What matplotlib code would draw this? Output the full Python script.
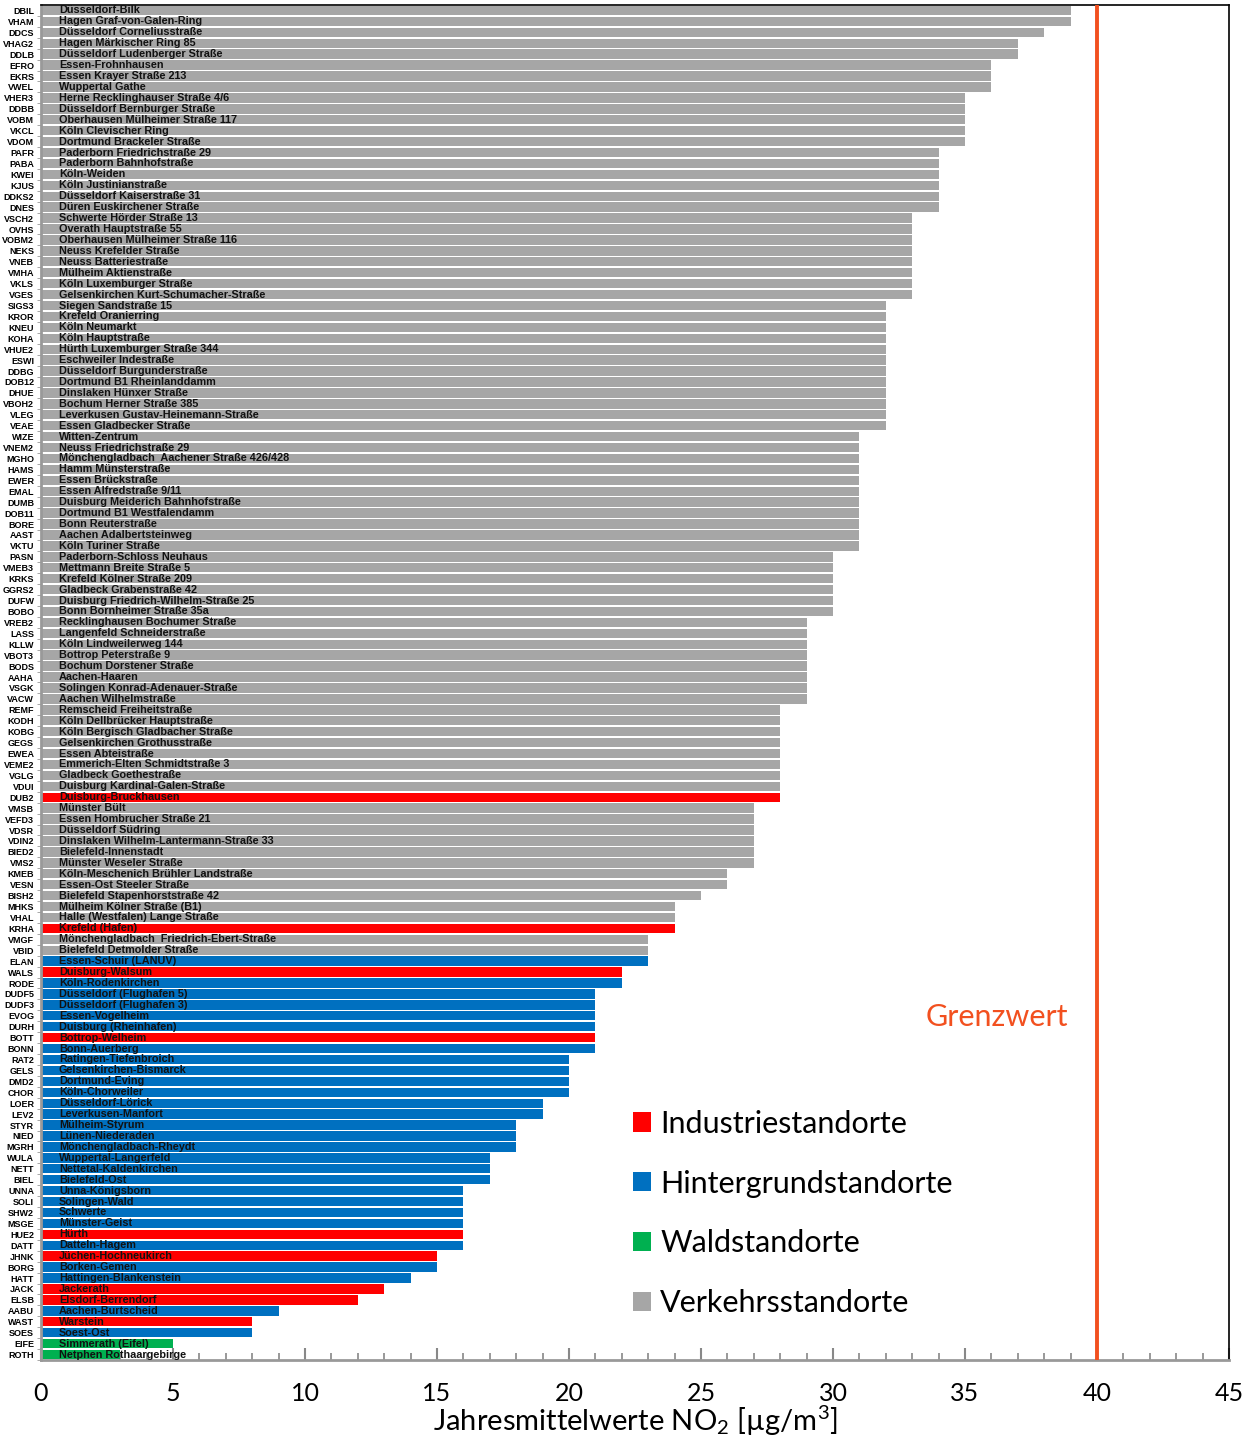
import matplotlib
matplotlib.use('Agg')
import matplotlib.pyplot as plt
from matplotlib.patches import Patch
from matplotlib.ticker import MultipleLocator

plt.rcParams['font.family'] = ['Lato', 'DejaVu Sans']
plt.rcParams['mathtext.default'] = 'regular'

# station codes, names, NO2 annual means, station type
codes = ['DBIL', 'VHAM', 'DDCS', 'VHAG2', 'DDLB', 'EFRO', 'EKRS', 'VWEL', 'VHER3', 'DDBB',
         'VOBM', 'VKCL', 'VDOM', 'PAFR', 'PABA', 'KWEI', 'KJUS', 'DDKS2', 'DNES', 'VSCH2',
         'OVHS', 'VOBM2', 'NEKS', 'VNEB', 'VMHA', 'VKLS', 'VGES', 'SIGS3', 'KROR', 'KNEU',
         'KOHA', 'VHUE2', 'ESWI', 'DDBG', 'DOB12', 'DHUE', 'VBOH2', 'VLEG', 'VEAE', 'WIZE',
         'VNEM2', 'MGHO', 'HAMS', 'EWER', 'EMAL', 'DUMB', 'DOB11', 'BORE', 'AAST', 'VKTU',
         'PASN', 'VMEB3', 'KRKS', 'GGRS2', 'DUFW', 'BOBO', 'VREB2', 'LASS', 'KLLW', 'VBOT3',
         'BODS', 'AAHA', 'VSGK', 'VACW', 'REMF', 'KODH', 'KOBG', 'GEGS', 'EWEA', 'VEME2',
         'VGLG', 'VDUI', 'DUB2', 'VMSB', 'VEFD3', 'VDSR', 'VDIN2', 'BIED2', 'VMS2', 'KMEB',
         'VESN', 'BISH2', 'MHKS', 'VHAL', 'KRHA', 'VMGF', 'VBID', 'ELAN', 'WALS', 'RODE',
         'DUDF5', 'DUDF3', 'EVOG', 'DURH', 'BOTT', 'BONN', 'RAT2', 'GELS', 'DMD2', 'CHOR',
         'LOER', 'LEV2', 'STYR', 'NIED', 'MGRH', 'WULA', 'NETT', 'BIEL', 'UNNA', 'SOLI',
         'SHW2', 'MSGE', 'HUE2', 'DATT', 'JHNK', 'BORG', 'HATT', 'JACK', 'ELSB', 'AABU',
         'WAST', 'SOES', 'EIFE', 'ROTH']

names = ['Düsseldorf-Bilk', 'Hagen Graf-von-Galen-Ring', 'Düsseldorf Corneliusstraße',
         'Hagen Märkischer Ring 85', 'Düsseldorf Ludenberger Straße', 'Essen-Frohnhausen',
         'Essen Krayer Straße 213', 'Wuppertal Gathe', 'Herne Recklinghauser Straße 4/6',
         'Düsseldorf Bernburger Straße', 'Oberhausen Mülheimer Straße 117', 'Köln Clevischer Ring',
         'Dortmund Brackeler Straße', 'Paderborn Friedrichstraße 29', 'Paderborn Bahnhofstraße',
         'Köln-Weiden', 'Köln Justinianstraße', 'Düsseldorf Kaiserstraße 31',
         'Düren Euskirchener Straße', 'Schwerte Hörder Straße 13', 'Overath Hauptstraße 55',
         'Oberhausen Mülheimer Straße 116', 'Neuss Krefelder Straße', 'Neuss Batteriestraße',
         'Mülheim Aktienstraße', 'Köln Luxemburger Straße', 'Gelsenkirchen Kurt-Schumacher-Straße',
         'Siegen Sandstraße 15', 'Krefeld Oranierring', 'Köln Neumarkt', 'Köln Hauptstraße',
         'Hürth Luxemburger Straße 344', 'Eschweiler Indestraße', 'Düsseldorf Burgunderstraße',
         'Dortmund B1 Rheinlanddamm', 'Dinslaken Hünxer Straße', 'Bochum Herner Straße 385',
         'Leverkusen Gustav-Heinemann-Straße', 'Essen Gladbecker Straße', 'Witten-Zentrum',
         'Neuss Friedrichstraße 29', 'Mönchengladbach  Aachener Straße 426/428', 'Hamm Münsterstraße',
         'Essen Brückstraße', 'Essen Alfredstraße 9/11', 'Duisburg Meiderich Bahnhofstraße',
         'Dortmund B1 Westfalendamm', 'Bonn Reuterstraße', 'Aachen Adalbertsteinweg',
         'Köln Turiner Straße', 'Paderborn-Schloss Neuhaus', 'Mettmann Breite Straße 5',
         'Krefeld Kölner Straße 209', 'Gladbeck Grabenstraße 42',
         'Duisburg Friedrich-Wilhelm-Straße 25', 'Bonn Bornheimer Straße 35a',
         'Recklinghausen Bochumer Straße', 'Langenfeld Schneiderstraße', 'Köln Lindweilerweg 144',
         'Bottrop Peterstraße 9', 'Bochum Dorstener Straße', 'Aachen-Haaren',
         'Solingen Konrad-Adenauer-Straße', 'Aachen Wilhelmstraße', 'Remscheid Freiheitstraße',
         'Köln Dellbrücker Hauptstraße', 'Köln Bergisch Gladbacher Straße',
         'Gelsenkirchen Grothusstraße', 'Essen Abteistraße', 'Emmerich-Elten Schmidtstraße 3',
         'Gladbeck Goethestraße', 'Duisburg Kardinal-Galen-Straße', 'Duisburg-Bruckhausen',
         'Münster Bült', 'Essen Hombrucher Straße 21', 'Düsseldorf Südring',
         'Dinslaken Wilhelm-Lantermann-Straße 33', 'Bielefeld-Innenstadt', 'Münster Weseler Straße',
         'Köln-Meschenich Brühler Landstraße', 'Essen-Ost Steeler Straße',
         'Bielefeld Stapenhorststraße 42', 'Mülheim Kölner Straße (B1)',
         'Halle (Westfalen) Lange Straße', 'Krefeld (Hafen)', 'Mönchengladbach  Friedrich-Ebert-Straße',
         'Bielefeld Detmolder Straße', 'Essen-Schuir (LANUV)', 'Duisburg-Walsum',
         'Köln-Rodenkirchen', 'Düsseldorf (Flughafen 5)', 'Düsseldorf (Flughafen 3)',
         'Essen-Vogelheim', 'Duisburg (Rheinhafen)', 'Bottrop-Welheim', 'Bonn-Auerberg',
         'Ratingen-Tiefenbroich', 'Gelsenkirchen-Bismarck', 'Dortmund-Eving', 'Köln-Chorweiler',
         'Düsseldorf-Lörick', 'Leverkusen-Manfort', 'Mülheim-Styrum', 'Lünen-Niederaden',
         'Mönchengladbach-Rheydt', 'Wuppertal-Langerfeld', 'Nettetal-Kaldenkirchen',
         'Bielefeld-Ost', 'Unna-Königsborn', 'Solingen-Wald', 'Schwerte', 'Münster-Geist',
         'Hürth', 'Datteln-Hagem', 'Jüchen-Hochneukirch', 'Borken-Gemen',
         'Hattingen-Blankenstein', 'Jackerath', 'Elsdorf-Berrendorf', 'Aachen-Burtscheid',
         'Warstein', 'Soest-Ost', 'Simmerath (Eifel)', 'Netphen Rothaargebirge']

values = [39, 39, 38, 37, 37, 36, 36, 36, 35, 35,
          35, 35, 35, 34, 34, 34, 34, 34, 34, 33,
          33, 33, 33, 33, 33, 33, 33, 32, 32, 32,
          32, 32, 32, 32, 32, 32, 32, 32, 32, 31,
          31, 31, 31, 31, 31, 31, 31, 31, 31, 31,
          30, 30, 30, 30, 30, 30, 29, 29, 29, 29,
          29, 29, 29, 29, 28, 28, 28, 28, 28, 28,
          28, 28, 28, 27, 27, 27, 27, 27, 27, 26,
          26, 25, 24, 24, 24, 23, 23, 23, 22, 22,
          21, 21, 21, 21, 21, 21, 20, 20, 20, 20,
          19, 19, 18, 18, 18, 17, 17, 17, 16, 16,
          16, 16, 16, 16, 15, 15, 14, 13, 12, 9,
          8, 8, 5, 3]

types = ['V'] * 72 + ['I'] + ['V'] * 11 + ['I'] + ['V', 'V', 'H', 'I', 'H',
         'H', 'H', 'H', 'H', 'I', 'H', 'H', 'H', 'H', 'H',
         'H', 'H', 'H', 'H', 'H', 'H', 'H', 'H', 'H', 'H',
         'H', 'H', 'I', 'H', 'I', 'H', 'H', 'I', 'I', 'H',
         'I', 'H', 'W', 'W']

limit_value = 40

type_colors = {'I': '#ff0000', 'H': '#0070c0', 'W': '#00b050', 'V': '#a6a6a6'}
type_labels = {'I': 'Industriestandorte', 'H': 'Hintergrundstandorte',
               'W': 'Waldstandorte', 'V': 'Verkehrsstandorte'}
limit_color = '#f2501f'

fig = plt.figure(figsize=(12.52, 14.37), dpi=100)
ax = fig.add_axes([41 / 1252, 1 - 1360 / 1437, 1188 / 1252, 1355 / 1437])

pos = list(range(len(values)))
ax.barh(pos, values, height=0.86, color=[type_colors[t] for t in types], zorder=2)

for p, name in zip(pos, names):
    ax.text(0.68, p, name, va='center', ha='left', fontsize=7.8, fontweight='bold',
            family='Liberation Sans', color='#111111', zorder=3)

ax.axvline(limit_value, color=limit_color, lw=2.8, zorder=4)
ax.text(38.9, 92.1, 'Grenzwert', color=limit_color, fontsize=22, ha='right', va='center')

ax.set_xlim(0, 45)
ax.set_ylim(len(values) - 0.5, -0.5)
ax.set_yticks(pos)
ax.set_yticklabels(codes, fontsize=6.5, fontweight='bold', family='Liberation Sans')
ax.tick_params(axis='y', length=0, pad=5)
ax.set_yticks([p + 0.5 for p in pos], minor=True)
ax.tick_params(axis='y', which='minor', length=3, color='#999999', direction='out')

ax.xaxis.set_major_locator(MultipleLocator(5))
ax.xaxis.set_minor_locator(MultipleLocator(1))
ax.tick_params(axis='x', which='major', direction='in', length=9, width=1.5, color='#888888',
               labelsize=18, pad=16)
ax.tick_params(axis='x', which='minor', direction='in', length=5, width=1.2, color='#888888')

for side in ['top', 'right']:
    ax.spines[side].set_color('black')
    ax.spines[side].set_linewidth(1.2)
for side in ['left', 'bottom']:
    ax.spines[side].set_color('#999999')
    ax.spines[side].set_linewidth(2)

ax.set_xlabel('Jahresmittelwerte NO$_2$ [µg/m$^3$]', fontsize=21, labelpad=-1)

handles = [Patch(facecolor=type_colors[t], label=type_labels[t]) for t in ['I', 'H', 'W', 'V']]
ax.legend(handles=handles, loc='upper left', bbox_to_anchor=(0.475, 0.205), frameon=False,
          fontsize=22, handlelength=0.6, handleheight=0.6, handletextpad=0.3,
          labelspacing=1.04)

fig.savefig('out.png', dpi=100)
